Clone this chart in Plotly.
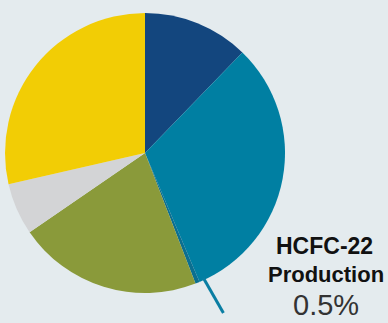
import math
import plotly.graph_objects as go

# Data (percent shares, clockwise from 12 o'clock)
categories = ["Dark blue", "Teal", "HCFC-22 Production", "Olive", "Gray", "Yellow"]
values = [12.25, 31.4, 0.5, 21.3, 6.0, 28.6]
colors = ["#13467e", "#007fa2", "#0b6f90", "#8a9a3a", "#d3d4d6", "#f2cd05"]
label_title = ["HCFC-22", "Production"]
label_value = "0.5%"

W, H = 388, 323
cx, cy, r = 145, 153, 140  # pixel centre / radius
BG = "#e4ebee"

fig = go.Figure(go.Pie(
    labels=categories, values=values, sort=False, direction="clockwise",
    rotation=0, marker=dict(colors=colors, line=dict(width=0)),
    textinfo="none", hoverinfo="skip", showlegend=False,
    domain=dict(x=[(cx - r) / W, (cx + r) / W], y=[(H - cy - r) / H, (H - cy + r) / H]),
))

# leader line for the small slice, computed from the data
total = sum(values)
mid = (sum(values[:2]) + values[2] / 2) / total * 360
ang = math.radians(mid - 3)
x0 = cx + math.sin(ang) * (r - 2)
y0 = cy - math.cos(ang) * (r - 2)
x1 = x0 + 20
y1 = y0 + 35
fig.add_shape(type="line", xref="paper", yref="paper",
              x0=x0 / W, y0=1 - y0 / H, x1=x1 / W, y1=1 - y1 / H,
              line=dict(color="#0a7ea3", width=3))

font_b = "Liberation Sans, Arial, sans-serif"
fig.add_annotation(x=324 / W, y=1 - 246 / H, xref="paper", yref="paper",
                   text="<b>%s</b>" % label_title[0], showarrow=False,
                   font=dict(family=font_b, size=23, color="#111111"),
                   xanchor="center", yanchor="middle")
fig.add_annotation(x=326 / W, y=1 - 274 / H, xref="paper", yref="paper",
                   text="<b>%s</b>" % label_title[1], showarrow=False,
                   font=dict(family=font_b, size=22, color="#111111"),
                   xanchor="center", yanchor="middle")
fig.add_annotation(x=326 / W, y=1 - 305 / H, xref="paper", yref="paper",
                   text=label_value, showarrow=False,
                   font=dict(family=font_b, size=29, color="#333333"),
                   xanchor="center", yanchor="middle")

fig.update_layout(width=W, height=H, margin=dict(l=0, r=0, t=0, b=0),
                  paper_bgcolor=BG, plot_bgcolor=BG)
fig.write_html("out.html", config={"displayModeBar": False},
               post_script="document.body.style.margin='0';document.body.style.background='%s';" % BG)
